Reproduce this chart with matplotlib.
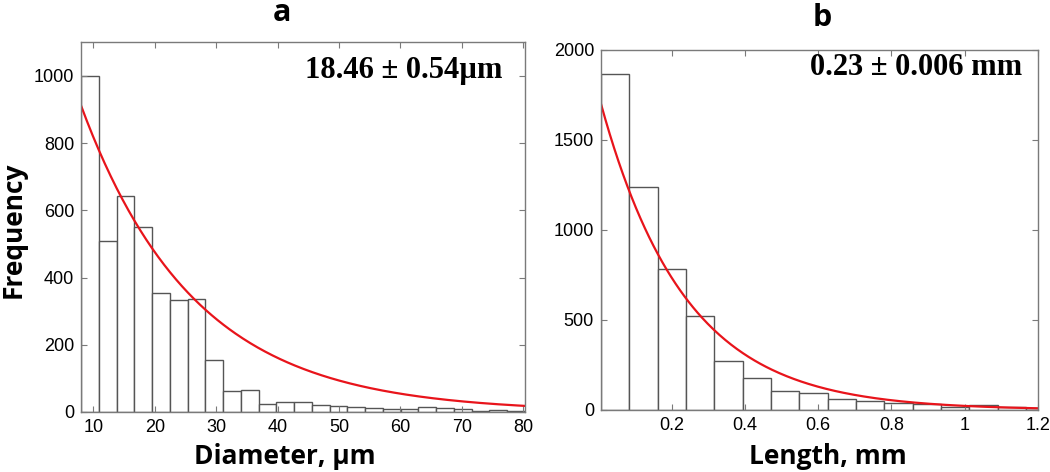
import numpy as np
import matplotlib
matplotlib.use("Agg")
import matplotlib.pyplot as plt

# ---- data ----
# Panel a: fibre diameter histogram (µm)
diam_bin_start = 8.0
diam_bin_width = 2.892
diam_counts = [1000, 509, 644, 550, 353, 333, 335, 156, 63, 65, 24, 31, 31,
               20, 17, 14, 12, 10, 10, 14, 11, 9, 3, 5, 4]
diam_fit_amp = 912      # fitted curve value at left edge
diam_fit_mean = 18.46   # exponential mean
diam_ticks = [10, 20, 30, 40, 50, 60, 70, 80]
diam_yticks = [0, 200, 400, 600, 800, 1000]
diam_label = "18.46 ± 0.54µm"

# Panel b: fibre length histogram (mm)
len_bin_start = 0.0074
len_bin_width = 0.0773
len_counts = [1865, 1237, 783, 519, 274, 176, 107, 94, 61, 52, 37, 33, 17, 30, 17, 9]
len_fit_amp = 1698
len_fit_mean = 0.23
len_ticks = [0.2, 0.4, 0.6, 0.8, 1.0, 1.2]
len_ticklabels = ["0.2", "0.4", "0.6", "0.8", "1", "1.2"]
len_yticks = [0, 500, 1000, 1500, 2000]
len_label = "0.23 ± 0.006 mm"

W, H = 1050, 472
fig = plt.figure(figsize=(W / 100, H / 100), dpi=100)

lab_font = dict(family="Open Sans", weight="bold", size=19)
ann_font = dict(family="Liberation Serif", weight="bold", size=22)

spine_col = "#7a7a7a"
edge_col = "#555555"


def box(l, r, b, t):
    return [l / W, 1 - b / H, (r - l) / W, (b - t) / H]


def style(ax):
    for s in ax.spines.values():
        s.set_color(spine_col)
        s.set_linewidth(1.0)
    ax.tick_params(direction="in", length=4, width=0.8, color=spine_col,
                   top=True, right=True, labelsize=13, pad=5)
    for lab in ax.get_xticklabels() + ax.get_yticklabels():
        lab.set_fontfamily("Liberation Sans")


# ---- panel a ----
axa = fig.add_axes(box(81, 525, 412, 42.3))
na = len(diam_counts)
edges_a = diam_bin_start + diam_bin_width * np.arange(na + 1)
axa.bar(edges_a[:-1], diam_counts, width=diam_bin_width, align="edge",
        facecolor="white", edgecolor=edge_col, linewidth=1.0)
xa = np.linspace(diam_bin_start, edges_a[-1], 300)
axa.plot(xa, diam_fit_amp * np.exp(-(xa - diam_bin_start) / diam_fit_mean),
         color="#e8141b", lw=1.6)
axa.set_xlim(diam_bin_start, edges_a[-1])
axa.set_ylim(0, 1100)
axa.set_xticks(diam_ticks)
axa.set_yticks(diam_yticks)
style(axa)
axa.text(0.948, 0.925, diam_label, transform=axa.transAxes, ha="right",
         va="center", **ann_font)

# ---- panel b ----
axb = fig.add_axes(box(601, 1038, 410, 49.5))
nb = len(len_counts)
edges_b = len_bin_start + len_bin_width * np.arange(nb + 1)
axb.bar(edges_b[:-1], len_counts, width=len_bin_width, align="edge",
        facecolor="white", edgecolor=edge_col, linewidth=1.0)
xb = np.linspace(len_bin_start, 1.2, 300)
axb.plot(xb, len_fit_amp * np.exp(-(xb - len_bin_start) / len_fit_mean),
         color="#e8141b", lw=1.6)
axb.set_xlim(len_bin_start, 1.2)
axb.set_ylim(0, 2000)
axb.set_xticks(len_ticks)
axb.set_xticklabels(len_ticklabels)
axb.set_yticks(len_yticks)
style(axb)
axb.text(0.963, 0.949, len_label, transform=axb.transAxes, ha="right",
         va="center", **ann_font)

# axis labels
fig.text(285 / W, 1 - 457 / H, "Diameter, µm", ha="center", va="center", **lab_font)
fig.text(828 / W, 1 - 457 / H, "Length, mm", ha="center", va="center", **lab_font)
fig.text(13 / W, 1 - 230 / H, "Frequency", ha="center", va="center",
         rotation=90, **lab_font)

# panel letters
fig.text(282 / W, 1 - 21 / H, "a", ha="center", va="baseline",
         family="Open Sans", weight="bold", size=22)
fig.text(822 / W, 1 - 26 / H, "b", ha="center", va="baseline",
         family="Open Sans", weight="bold", size=22)

fig.savefig("out.png", dpi=100)
